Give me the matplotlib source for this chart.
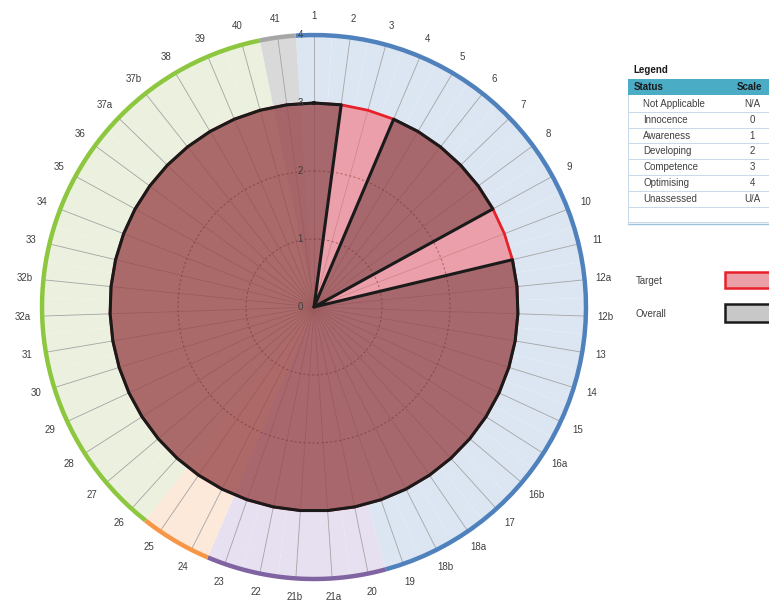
import numpy as np
import matplotlib
matplotlib.use('Agg')
import matplotlib.pyplot as plt
from matplotlib.patches import Rectangle
from matplotlib.lines import Line2D
from matplotlib.transforms import offset_copy

plt.rcParams['font.family'] = ['Liberation Sans', 'DejaVu Sans']

# categories around the wheel, clockwise from the top
categories = ['1', '2', '3', '4', '5', '6', '7', '8', '9', '10', '11', '12a', '12b',
              '13', '14', '15', '16a', '16b', '17', '18a', '18b', '19', '20', '21a',
              '21b', '22', '23', '24', '25', '26', '27', '28', '29', '30', '31', '32a',
              '32b', '33', '34', '35', '36', '37a', '37b', '38', '39', '40', '41']

target = [3, 3, 3, 3, 3, 3, 3, 3, 3, 3, 3, 3, 3, 3, 3, 3, 3, 3, 3, 3, 3, 3, 3, 3,
          3, 3, 3, 3, 3, 3, 3, 3, 3, 3, 3, 3, 3, 3, 3, 3, 3, 3, 3, 3, 3, 3, 3]
overall = [3, 3, 0, 3, 3, 3, 3, 3, 3, 0, 3, 3, 3, 3, 3, 3, 3, 3, 3, 3, 3, 3, 3, 3,
           3, 3, 3, 3, 3, 3, 3, 3, 3, 3, 3, 3, 3, 3, 3, 3, 3, 3, 3, 3, 3, 3, 3]

# coloured sections of the wheel (number of categories in each)
band_sizes = [22, 5, 2, 17, 1]
band_fill = ['#dce6f2', '#e6e0f0', '#fde9d9', '#ebf1de', '#d9d9d9']
band_ring = ['#4f81bd', '#8064a2', '#f79646', '#8dc63f', '#a6a6a6']

radial_ticks = [0, 1, 2, 3, 4]

status = ['Not Applicable', 'Innocence', 'Awareness', 'Developing',
          'Competence', 'Optimising', 'Unassessed']
scale = ['N/A', '0', '1', '2', '3', '4', 'U/A']

W, H = 769, 603
fig = plt.figure(figsize=(W / 100, H / 100), dpi=100)

cx, cy, R = 314, 307, 272
ax = fig.add_axes([(cx - R) / W, (H - cy - R) / H, 2 * R / W, 2 * R / H],
                  projection='polar')
ax.set_theta_zero_location('N')
ax.set_theta_direction(-1)
ax.set_ylim(0, 4)
ax.axis('off')

n = len(categories)
theta = np.arange(n) * 2 * np.pi / n
width = 2 * np.pi / n

# background sections
fills = np.repeat(band_fill, band_sizes)
ax.bar(theta, 4, width=width, bottom=0, color=fills, edgecolor='none', zorder=0)

# outer coloured ring
start = 0
for size, col in zip(band_sizes, band_ring):
    a0 = theta[start] - width / 2
    a1 = theta[start + size - 1] + width / 2
    arc = np.linspace(a0, a1, 60)
    ax.plot(arc, np.full_like(arc, 4), color=col, lw=3.2,
            solid_capstyle='butt', clip_on=False, zorder=6)
    start += size

# spokes and grid circles
for t in theta:
    ax.plot([t, t], [0, 4], color='#a4a4a4', lw=0.6, zorder=1)
circ = np.linspace(0, 2 * np.pi, 300)
for r in radial_ticks[1:3]:
    ax.plot(circ, np.full_like(circ, r), color='#505050', lw=0.8,
            ls=(0, (2, 2)), zorder=1)


def radar_outline(values):
    th, rr = [], []
    for i, v in enumerate(values):
        if v == 0:
            # straight to the centre and back out
            th += [theta[i - 1], theta[(i + 1) % n]]
            rr += [0, 0]
        else:
            th.append(theta[i])
            rr.append(v)
    return th + [th[0] + 2 * np.pi], rr + [rr[0]]


tt, tr = radar_outline(target)
ax.fill(tt, tr, color='#f5717a', alpha=0.6, lw=0, zorder=2)
ax.plot(tt, tr, color='#e8202a', lw=2, zorder=2.5)

ot, orr = radar_outline(overall)
ax.fill(ot, orr, color='#643232', alpha=0.5, lw=0, zorder=3)
ax.plot(ot, orr, color='#1a1a1a', lw=2.2, zorder=3.5)

# category labels
for t, lab in zip(theta, categories):
    ax.text(t, 4.28, lab, ha='center', va='center', fontsize=7, color='#3f3f3f')

# radial value labels
trans = offset_copy(ax.transData, fig=fig, x=-14, y=0, units='dots')
for r in radial_ticks:
    ax.text(0, r, str(r), transform=trans, ha='center', va='center',
            fontsize=7, color='#3f3f3f', zorder=7)


# legend table (figure pixels)
def fx(x):
    return x / W


def fy(y):
    return 1 - y / H


fig.text(fx(633), fy(70), 'Legend', fontsize=7, fontweight='bold',
         ha='left', va='center', color='#1a1a1a')
fig.add_artist(Rectangle((fx(628), fy(95)), fx(769 - 628) + 0.01, 16 / H,
                         transform=fig.transFigure, color='#4bacc6', lw=0))
fig.text(fx(634), fy(87), 'Status', fontsize=7, fontweight='bold',
         ha='left', va='center', color='#1a1a1a')
fig.text(fx(749), fy(87), 'Scale', fontsize=7, fontweight='bold',
         ha='center', va='center', color='#1a1a1a')

row_h = 15.8
for k, (s, sc) in enumerate(zip(status, scale)):
    yc = 104 + k * row_h
    fig.text(fx(643), fy(yc), s, fontsize=7, ha='left', va='center', color='#404040')
    fig.text(fx(752), fy(yc), sc, fontsize=7, ha='center', va='center', color='#404040')
for k in range(len(status) + 1):
    yl = 96 + (k + 1) * row_h
    fig.add_artist(Line2D([fx(628), fx(769)], [fy(yl), fy(yl)],
                          transform=fig.transFigure, color='#c9d9ea', lw=0.7))
fig.add_artist(Line2D([fx(628), fx(769)], [fy(224), fy(224)],
                      transform=fig.transFigure, color='#9cc3dc', lw=1.0))
fig.add_artist(Line2D([fx(628), fx(628)], [fy(95), fy(224)],
                      transform=fig.transFigure, color='#c9d9ea', lw=0.7))

# series key
fig.text(fx(636), fy(281), 'Target', fontsize=7, ha='left', va='center', color='#404040')
fig.text(fx(636), fy(314), 'Overall', fontsize=7, ha='left', va='center', color='#404040')
fig.add_artist(Rectangle((fx(725), fy(288)), fx(60), 16 / H, transform=fig.transFigure,
                         fc='#eba0a8', ec='#e8202a', lw=1.8))
fig.add_artist(Rectangle((fx(725), fy(322)), fx(60), 18 / H, transform=fig.transFigure,
                         fc='#c8c8c8', ec='#1a1a1a', lw=1.8))

fig.savefig('out.png', dpi=100)
